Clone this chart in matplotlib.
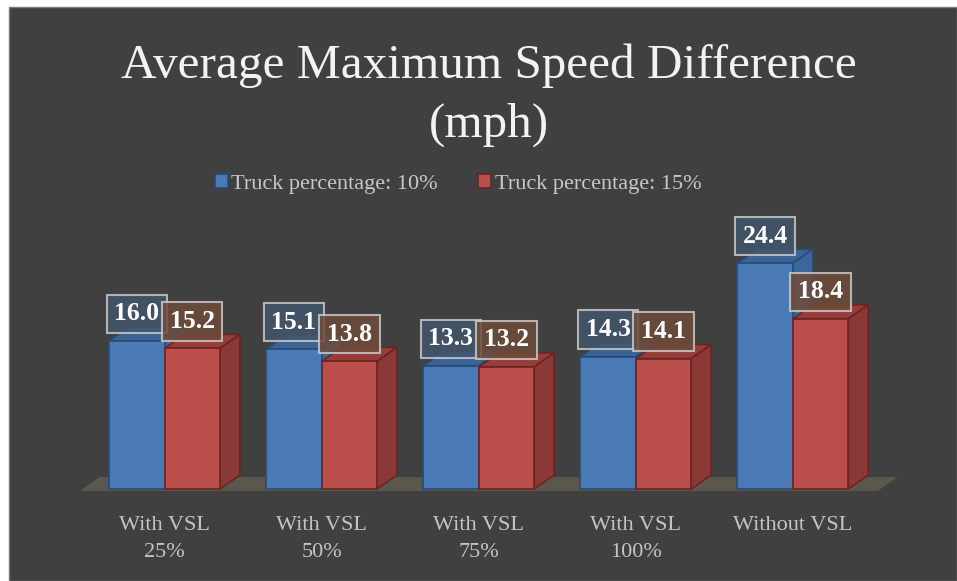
import numpy as np
import matplotlib
matplotlib.use("Agg")
import matplotlib.pyplot as plt
from matplotlib.patches import Polygon, Rectangle

# data
categories = ["With VSL\n25%", "With VSL\n50%", "With VSL\n75%", "With VSL\n100%", "Without VSL"]
truck_10 = [16.0, 15.1, 13.3, 14.3, 24.4]
truck_15 = [15.2, 13.8, 13.2, 14.1, 18.4]
series_names = ["Truck percentage: 10%", "Truck percentage: 15%"]

plt.rcParams['font.family'] = ['Liberation Serif', 'DejaVu Serif']

W, H = 957, 581
fig = plt.figure(figsize=(W / 100, H / 100), dpi=100)
fig.patch.set_facecolor('white')
# dark chart area with thin white margin top/left
fig.add_artist(Rectangle((9 / W, 0), 1 - 9 / W, 1 - 7 / H, transform=fig.transFigure,
                         facecolor='#404040', edgecolor='#7a7a7a', linewidth=1, zorder=0))

# axes: x in category units, y in value units
ax = fig.add_axes([0, (H - 491) / H, 1, (491 - 7) / H])
ax.set_facecolor('none')
x = np.arange(len(categories))
px_per_cat = 157.1
ax.set_xlim(-164.5 / px_per_cat, (W - 164.5) / px_per_cat)
ax.set_ylim(-2 / 9.25, (489 - 7) / 9.25)
for s in ax.spines.values():
    s.set_visible(False)
ax.set_yticks([])
ax.set_xticks(x)
ax.set_xticklabels(categories, fontsize=16, color='#c4c4c4', linespacing=1.6)
ax.tick_params(axis='x', length=0, pad=18)

w = 0.353    # bar width (category units)
dx = 0.127   # 3d depth offset
dy = 1.51

# floor
fl, fr, fb = x[0] - 0.54, x[-1] + 0.54, -0.22
ax.add_patch(Polygon([[fl, fb], [fr, fb], [fr + dx, fb + dy], [fl + dx, fb + dy]],
                     closed=True, facecolor='#5b574c', edgecolor='none', zorder=1))

front = ['#4a7ab6', '#b94e4b']
top = ['#3a6495', '#963c39']
side = ['#3c679b', '#8b3937']
edge = ['#2b4a72', '#6a2523']
box_fc = ['#43566c', '#6f4b3a']

handles = []
for k, vals in enumerate([truck_10, truck_15]):
    left = x - w + k * w
    for i, v in enumerate(vals):
        l, r = left[i], left[i] + w
        ax.add_patch(Polygon([[l, v], [r, v], [r + dx, v + dy], [l + dx, v + dy]],
                             closed=True, facecolor=top[k], edgecolor=edge[k],
                             linewidth=1.2, zorder=2 + 2 * k))
        ax.add_patch(Polygon([[r, 0], [r + dx, dy], [r + dx, v + dy], [r, v]],
                             closed=True, facecolor=side[k], edgecolor=edge[k],
                             linewidth=1.2, zorder=2 + 2 * k))
    b = ax.bar(left, vals, w, align='edge', color=front[k], edgecolor=edge[k],
               linewidth=1.2, zorder=3 + 2 * k, label=series_names[k])
    handles.append(b)

# value labels
for k, vals in enumerate([truck_10, truck_15]):
    cx = x - w / 2 + k * w
    for i, v in enumerate(vals):
        ax.annotate(f"{v:.1f}", (cx[i], v), xytext=(0, 19.5), textcoords='offset points',
                    ha='center', va='center', fontsize=18.5, fontweight='bold', color='white',
                    zorder=10 + k,
                    bbox=dict(boxstyle='square,pad=0.3', facecolor=box_fc[k], alpha=0.85,
                              edgecolor='#c8c8c8', linewidth=1.5))

fig.text(489 / W, 1 - 66 / H, "Average Maximum Speed Difference", ha='center', va='center',
         fontsize=35.5, color='#f2f2f2')
fig.text(489 / W, 1 - 125 / H, "(mph)", ha='center', va='center', fontsize=35.5, color='#f2f2f2')

leg = fig.legend(handles=handles, loc='center', bbox_to_anchor=(458 / W, 1 - 184 / H), ncol=2,
                 frameon=False, fontsize=16, handlelength=0.6, handleheight=0.6,
                 handletextpad=0.15, columnspacing=1.8, labelcolor='#c8c8c8')

fig.savefig("out.png", dpi=100, facecolor=fig.get_facecolor())
